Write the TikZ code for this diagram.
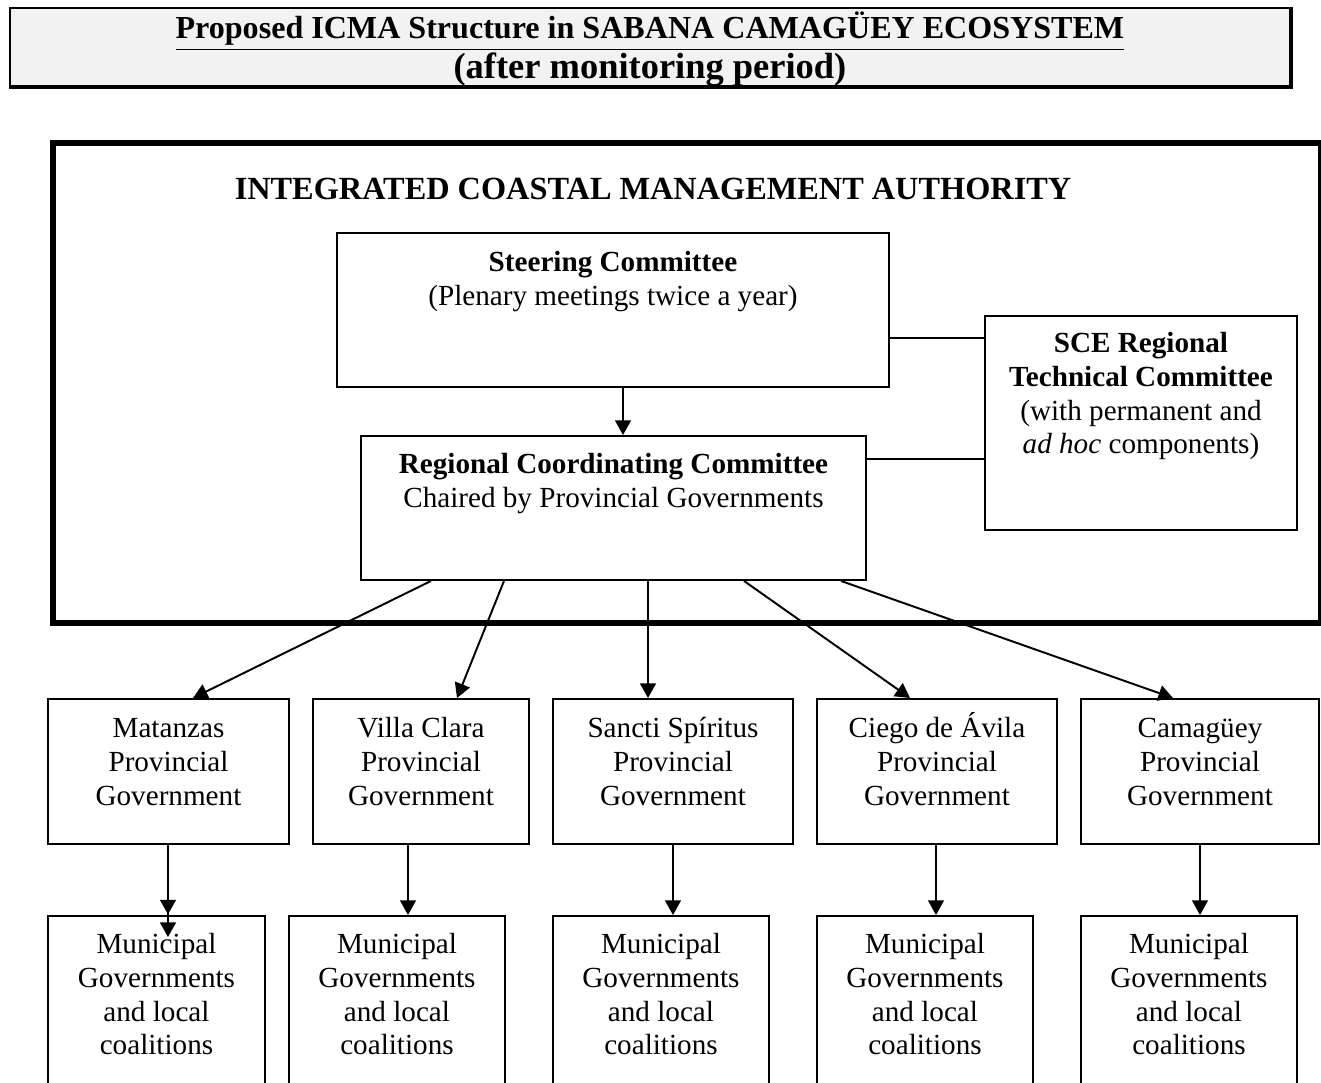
\documentclass[tikz,border=0pt]{standalone}
\usepackage{fontspec}
\setmainfont{Liberation Serif}
\usetikzlibrary{arrows.meta}
\newlength{\pxu}
\setlength{\pxu}{0.4115pt}
% box text, pinned to the top of a box of given size
\newcommand{\filltop}[4]{\parbox[c][#2\pxu][t]{#1\pxu}{\centering\rule{0pt}{#3\pxu}#4\par}}

\begin{document}
\begin{tikzpicture}
 [
 x=\pxu, y=-\pxu,
 box/.style={draw=black, line width=0.8pt, inner sep=0pt, anchor=north west, font=\fontsize{12}{13.8}\selectfont},
 authbox/.style={draw=black, line width=2.5pt, inner sep=0pt, anchor=north west, font=\fontsize{13.3}{16}\selectfont\bfseries},
 titlebox/.style={draw=black, fill=black!5, line width=0.8pt, inner sep=0pt, anchor=north west, font=\fontsize{13.2}{14.8}\selectfont\bfseries},
 arr/.style={-{Triangle[length=6pt,width=6.5pt]}, line width=0.8pt},
 dblarr/.style={-{Triangle[length=6pt,width=6.5pt,sep=3.3pt]Triangle[length=6pt,width=6.5pt]}, line width=0.8pt},
 link/.style={line width=0.8pt}
 ]
 \useasboundingbox (0,0) rectangle (1321,1082);
 \clip (0,0) rectangle (1321,1082);
 \node at (9,7) [titlebox] (title) {\filltop{1280}{78}{31}{\underline{Proposed ICMA Structure in SABANA CAMAGÜEY ECOSYSTEM}\\{\fontsize{15}{15}\selectfont(after monitoring period)}}};
 \draw[line width=1.3pt] (title.south west) -- (title.south east) -- (title.north east);
 \node at (50,140) [authbox] (icma) {\filltop{1268}{480}{56}{INTEGRATED COASTAL MANAGEMENT AUTHORITY\hspace*{68\pxu}}};
 \node at (336,232) [box] (steer) {\filltop{552}{154}{39}{\textbf{Steering Committee}\\(Plenary meetings twice a year)}};
 \node at (360,435) [box] (reg) {\filltop{505}{144}{38}{\textbf{Regional Coordinating Committee}\\Chaired by Provincial Governments}};
 \node at (984,315) [box] (sce) {\filltop{312}{214}{37}{\textbf{SCE Regional}\\\textbf{Technical Committee}\\(with permanent and\\\textit{ad hoc} components)}};
 % provincial governments
 \node at (47,698) [box] (p1) {\filltop{241}{145}{39}{Matanzas\\Provincial\\Government}};
 \node at (312,698) [box] (p2) {\filltop{216}{145}{39}{Villa Clara\\Provincial\\Government}};
 \node at (552,698) [box] (p3) {\filltop{240}{145}{39}{Sancti Spíritus\\Provincial\\Government}};
 \node at (816,698) [box] (p4) {\filltop{240}{145}{39}{Ciego de Ávila\\Provincial\\Government}};
 \node at (1080,698) [box] (p5) {\filltop{238}{145}{39}{Camagüey\\Provincial\\Government}};
 % municipal level
 \node at (47,915) [box] (m1) {\filltop{217}{200}{38}{Municipal\\Governments\\and local\\coalitions}};
 \node at (288,915) [box] (m2) {\filltop{216}{200}{38}{Municipal\\Governments\\and local\\coalitions}};
 \node at (552,915) [box] (m3) {\filltop{216}{200}{38}{Municipal\\Governments\\and local\\coalitions}};
 \node at (816,915) [box] (m4) {\filltop{216}{200}{38}{Municipal\\Governments\\and local\\coalitions}};
 \node at (1080,915) [box] (m5) {\filltop{216}{200}{38}{Municipal\\Governments\\and local\\coalitions}};
 \coordinate (m1in) at (168,937);
 \draw[arr] (steer.south -| 623,0) -- (reg.north -| 623,0);
 \draw[link] (steer.east |- 0,338) -- (sce.west |- 0,338);
 \draw[link] (reg.east |- 0,459) -- (sce.west |- 0,459);
 \draw[arr] (reg.south -| 431,0) -- (p1.north -| 193,0);
 \draw[arr] (reg.south -| 504,0) -- (p2.north -| 457,0);
 \draw[arr] (reg.south -| 648,0) -- (p3.north -| 648,0);
 \draw[arr] (reg.south -| 744,0) -- (p4.north -| 910,0);
 \draw[arr] (reg.south -| 841,0) -- (p5.north -| 1173,0);
 \draw[dblarr] (p1.south -| 168,0) -- (m1in);
 \draw[arr] (p2.south -| 408,0) -- (m2.north -| 408,0);
 \draw[arr] (p3.south -| 673,0) -- (m3.north -| 673,0);
 \draw[arr] (p4.south -| 936,0) -- (m4.north -| 936,0);
 \draw[arr] (p5.south -| 1200,0) -- (m5.north -| 1200,0);
\end{tikzpicture}
\end{document}
